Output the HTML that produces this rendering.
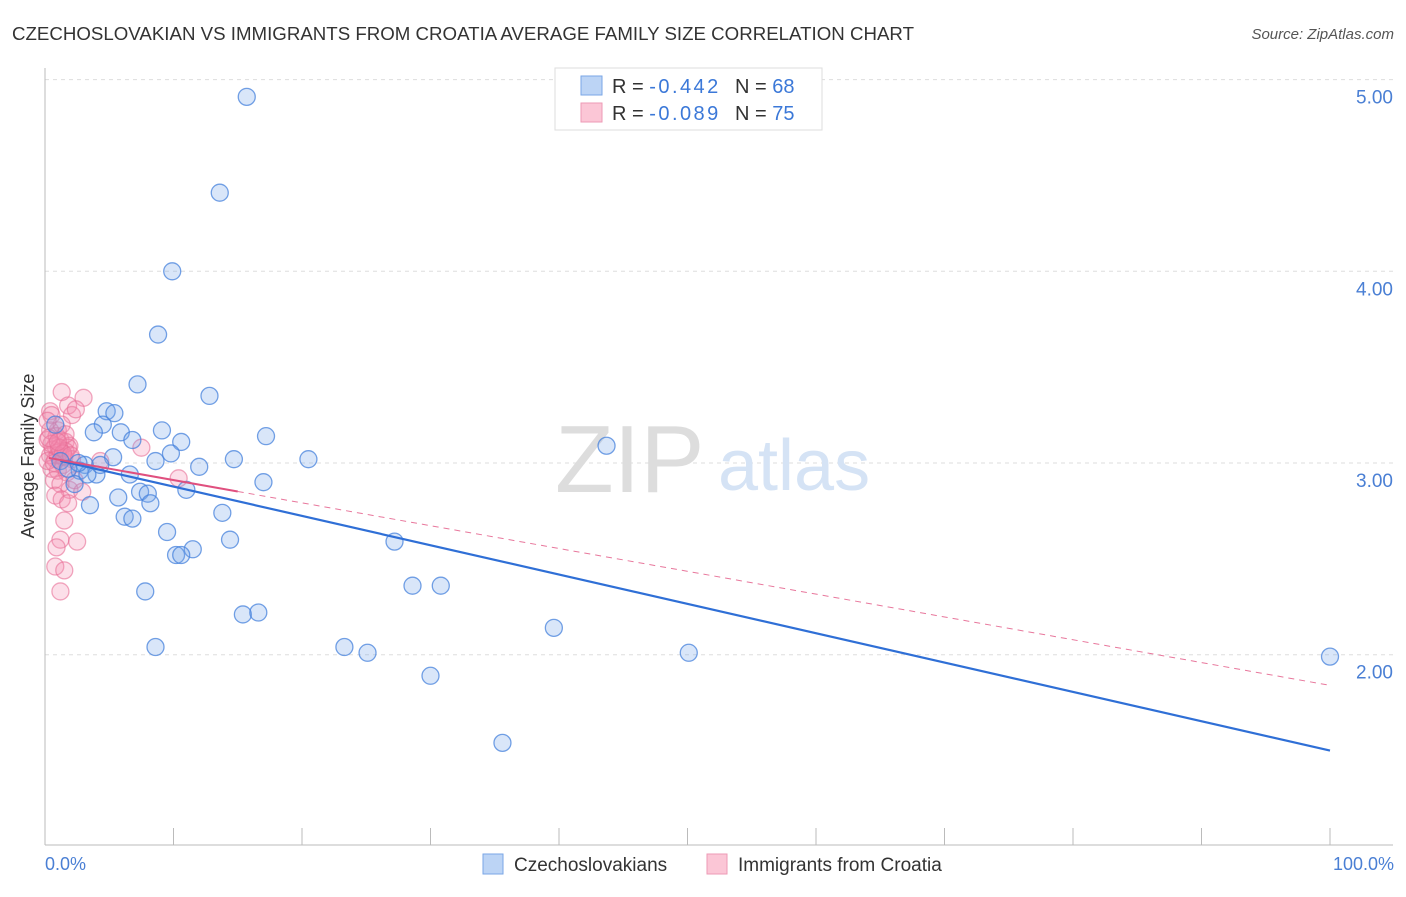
<!DOCTYPE html>
<html><head><meta charset="utf-8"><style>
body{margin:0;background:#fff;font-family:"Liberation Sans",sans-serif;}
svg text{font-family:"Liberation Sans",sans-serif;}
</style></head><body>
<svg id="chart" width="1406" height="892" viewBox="0 0 1406 892">
<text x="12" y="40" font-size="18" fill="#333" textLength="902" lengthAdjust="spacingAndGlyphs">CZECHOSLOVAKIAN VS IMMIGRANTS FROM CROATIA AVERAGE FAMILY SIZE CORRELATION CHART</text>
<text x="1394" y="39" font-size="15" fill="#555" text-anchor="end" font-style="italic">Source: ZipAtlas.com</text>
<g id="grid"></g>
<g id="axes"></g>
<text x="555" y="492" font-size="96" fill="#ddd" font-family="Liberation Serif">ZIP</text>
<text x="718" y="490" font-size="72" fill="#d5e3f5">atlas</text>
<g id="pink"></g>
<g id="blue"></g>
<g id="trends"></g>
<text transform="translate(34,456) rotate(-90)" font-size="18" fill="#333" text-anchor="middle">Average Family Size</text>
<text x="45" y="870" font-size="18" fill="#4a7fd4">0.0%</text>
<text x="1394" y="870" font-size="18" fill="#4a7fd4" text-anchor="end">100.0%</text>
<g>
<rect x="555" y="68" width="267" height="62" fill="#fff" stroke="#ddd"/>
<rect x="581" y="76" width="21" height="19" fill="#bcd4f5" stroke="#7aa6e6"/>
<rect x="581" y="103" width="21" height="19" fill="#fbc6d6" stroke="#ee9ab5"/>
<text x="612" y="93" font-size="20" fill="#333">R = <tspan fill="#3b78d8" textLength="69">-0.442</tspan><tspan x="735">N = </tspan><tspan fill="#3b78d8">68</tspan></text>
<text x="612" y="120" font-size="20" fill="#333">R = <tspan fill="#3b78d8" textLength="69">-0.089</tspan><tspan x="735">N = </tspan><tspan fill="#3b78d8">75</tspan></text>
</g>
<g>
<rect x="483" y="854" width="20" height="20" fill="#bcd4f5" stroke="#7aa6e6"/>
<text x="514" y="871" font-size="19" fill="#333">Czechoslovakians</text>
<rect x="707" y="854" width="20" height="20" fill="#fbc6d6" stroke="#ee9ab5"/>
<text x="738" y="871" font-size="19" fill="#333">Immigrants from Croatia</text>
</g>
</svg>
<script>
const yTicks=[2,3,4,5];
const yTickLabels=["2.00","3.00","4.00","5.00"];
const blueX=[15.7,13.6,9.9,8.8,7.2,12.8,4.8,5.4,4.5,3.8,5.9,9.1,6.8,10.6,17.2,9.8,5.3,8.6,12.0,14.7,20.5,43.7,3.1,2.7,4.0,6.6,2.3,3.3,17.0,11.0,7.4,8.0,5.7,8.2,3.5,13.8,6.2,6.8,9.5,14.4,27.2,11.5,10.2,10.6,7.8,28.6,30.8,15.4,16.6,39.6,8.6,23.3,25.1,50.1,100,30.0,35.6,1.2,1.8,2.6,4.3,0.8];
const blueY=[4.91,4.41,4.00,3.67,3.41,3.35,3.27,3.26,3.20,3.16,3.16,3.17,3.12,3.11,3.14,3.05,3.03,3.01,2.98,3.02,3.02,3.09,2.99,2.96,2.94,2.94,2.89,2.94,2.90,2.86,2.85,2.84,2.82,2.79,2.78,2.74,2.72,2.71,2.64,2.60,2.59,2.55,2.52,2.52,2.33,2.36,2.36,2.21,2.22,2.14,2.04,2.04,2.01,2.01,1.99,1.89,1.54,3.01,2.97,3.00,2.99,3.20];
const pinkX=[0.4,0.5,1.3,1.8,2.1,3.0,2.4,1.0,0.2,0.8,1.2,1.6,1.9,0.4,0.8,1.2,1.5,1.8,2.1,0.5,1.0,1.4,1.7,0.7,1.2,1.9,2.3,2.9,0.8,1.3,1.8,1.5,1.2,2.5,0.9,0.8,1.5,1.2,7.5,10.4,4.3,0.4,0.9,1.3,1.6,0.2,0.6,1.0,1.6,0.2,0.5,1.1,1.4,2.0,0.3,0.7,1.0];
const pinkY=[3.27,3.25,3.37,3.30,3.25,3.34,3.28,3.17,3.12,3.09,3.12,3.11,3.09,3.04,3.02,3.06,3.03,3.08,3.02,2.97,2.96,2.99,2.95,2.91,2.89,2.86,2.91,2.85,2.83,2.81,2.79,2.70,2.60,2.59,2.56,2.46,2.44,2.33,3.08,2.92,3.01,3.17,3.14,3.20,3.15,3.22,3.07,3.04,3.06,3.01,3.10,3.08,3.05,3.04,3.13,3.00,3.11];
const blueTrend=[3.03,1.50];
const pinkTrend=[3.03,1.84];
const pinkSolidEnd=15;
const X=v=>45+v*12.85, Y=v=>463-(v-3)*191.7;
const NS="http://www.w3.org/2000/svg";
function mk(t,a,p){const e=document.createElementNS(NS,t);for(const k in a)e.setAttribute(k,a[k]);p.appendChild(e);return e;}
const grid=document.getElementById('grid'),axes=document.getElementById('axes');
yTicks.forEach((t,i)=>{
 const l=mk('line',{x1:45,x2:1393,y1:Y(t),y2:Y(t),stroke:'#ddd','stroke-dasharray':'4,4'},grid);
 
 
 const tx=mk('text',{x:1393,y:Y(t)+24,'font-size':19,fill:'#4a7fd4','text-anchor':'end'},axes);
 tx.textContent=yTickLabels[i];
 
 
});
mk('line',{x1:45,x2:45,y1:68,y2:845,stroke:'#bbb'},axes);
mk('line',{x1:45,x2:1393,y1:845,y2:845,stroke:'#bbb'},axes);
for(let i=0;i<=10;i++){const t=mk('line',{x1:X(i*10),x2:X(i*10),y1:828,y2:845,stroke:'#bbb'},axes);
 
 }
const pg=document.getElementById('pink'),bg=document.getElementById('blue');
pinkX.forEach((x,i)=>{const c=mk('circle',{cx:X(x),cy:Y(pinkY[i]),r:8.5,fill:'rgba(244,140,175,0.28)',stroke:'rgba(232,110,150,0.6)','stroke-width':1.3},pg);
 
 });
blueX.forEach((x,i)=>{const c=mk('circle',{cx:X(x),cy:Y(blueY[i]),r:8.5,fill:'rgba(120,165,235,0.28)',stroke:'rgba(70,130,220,0.75)','stroke-width':1.3},bg);
 
 });
const tg=document.getElementById('trends');
const bl=mk('line',{x1:X(1.2),y1:Y(blueTrend[0]+(blueTrend[1]-blueTrend[0])*0.012),x2:X(100),y2:Y(blueTrend[1]),stroke:'#2f6fd6','stroke-width':2.2},tg);


const py=x=>pinkTrend[0]+(pinkTrend[1]-pinkTrend[0])*x/100;
const pd=mk('line',{x1:X(pinkSolidEnd),y1:Y(py(pinkSolidEnd)),x2:X(100),y2:Y(py(100)),stroke:'#e8779c','stroke-width':1,'stroke-dasharray':'6,5'},tg);


const ps=mk('line',{x1:X(0.3),y1:Y(py(0.3)),x2:X(pinkSolidEnd),y2:Y(py(pinkSolidEnd)),stroke:'#e0507f','stroke-width':2},tg);


</script>
</body></html>
